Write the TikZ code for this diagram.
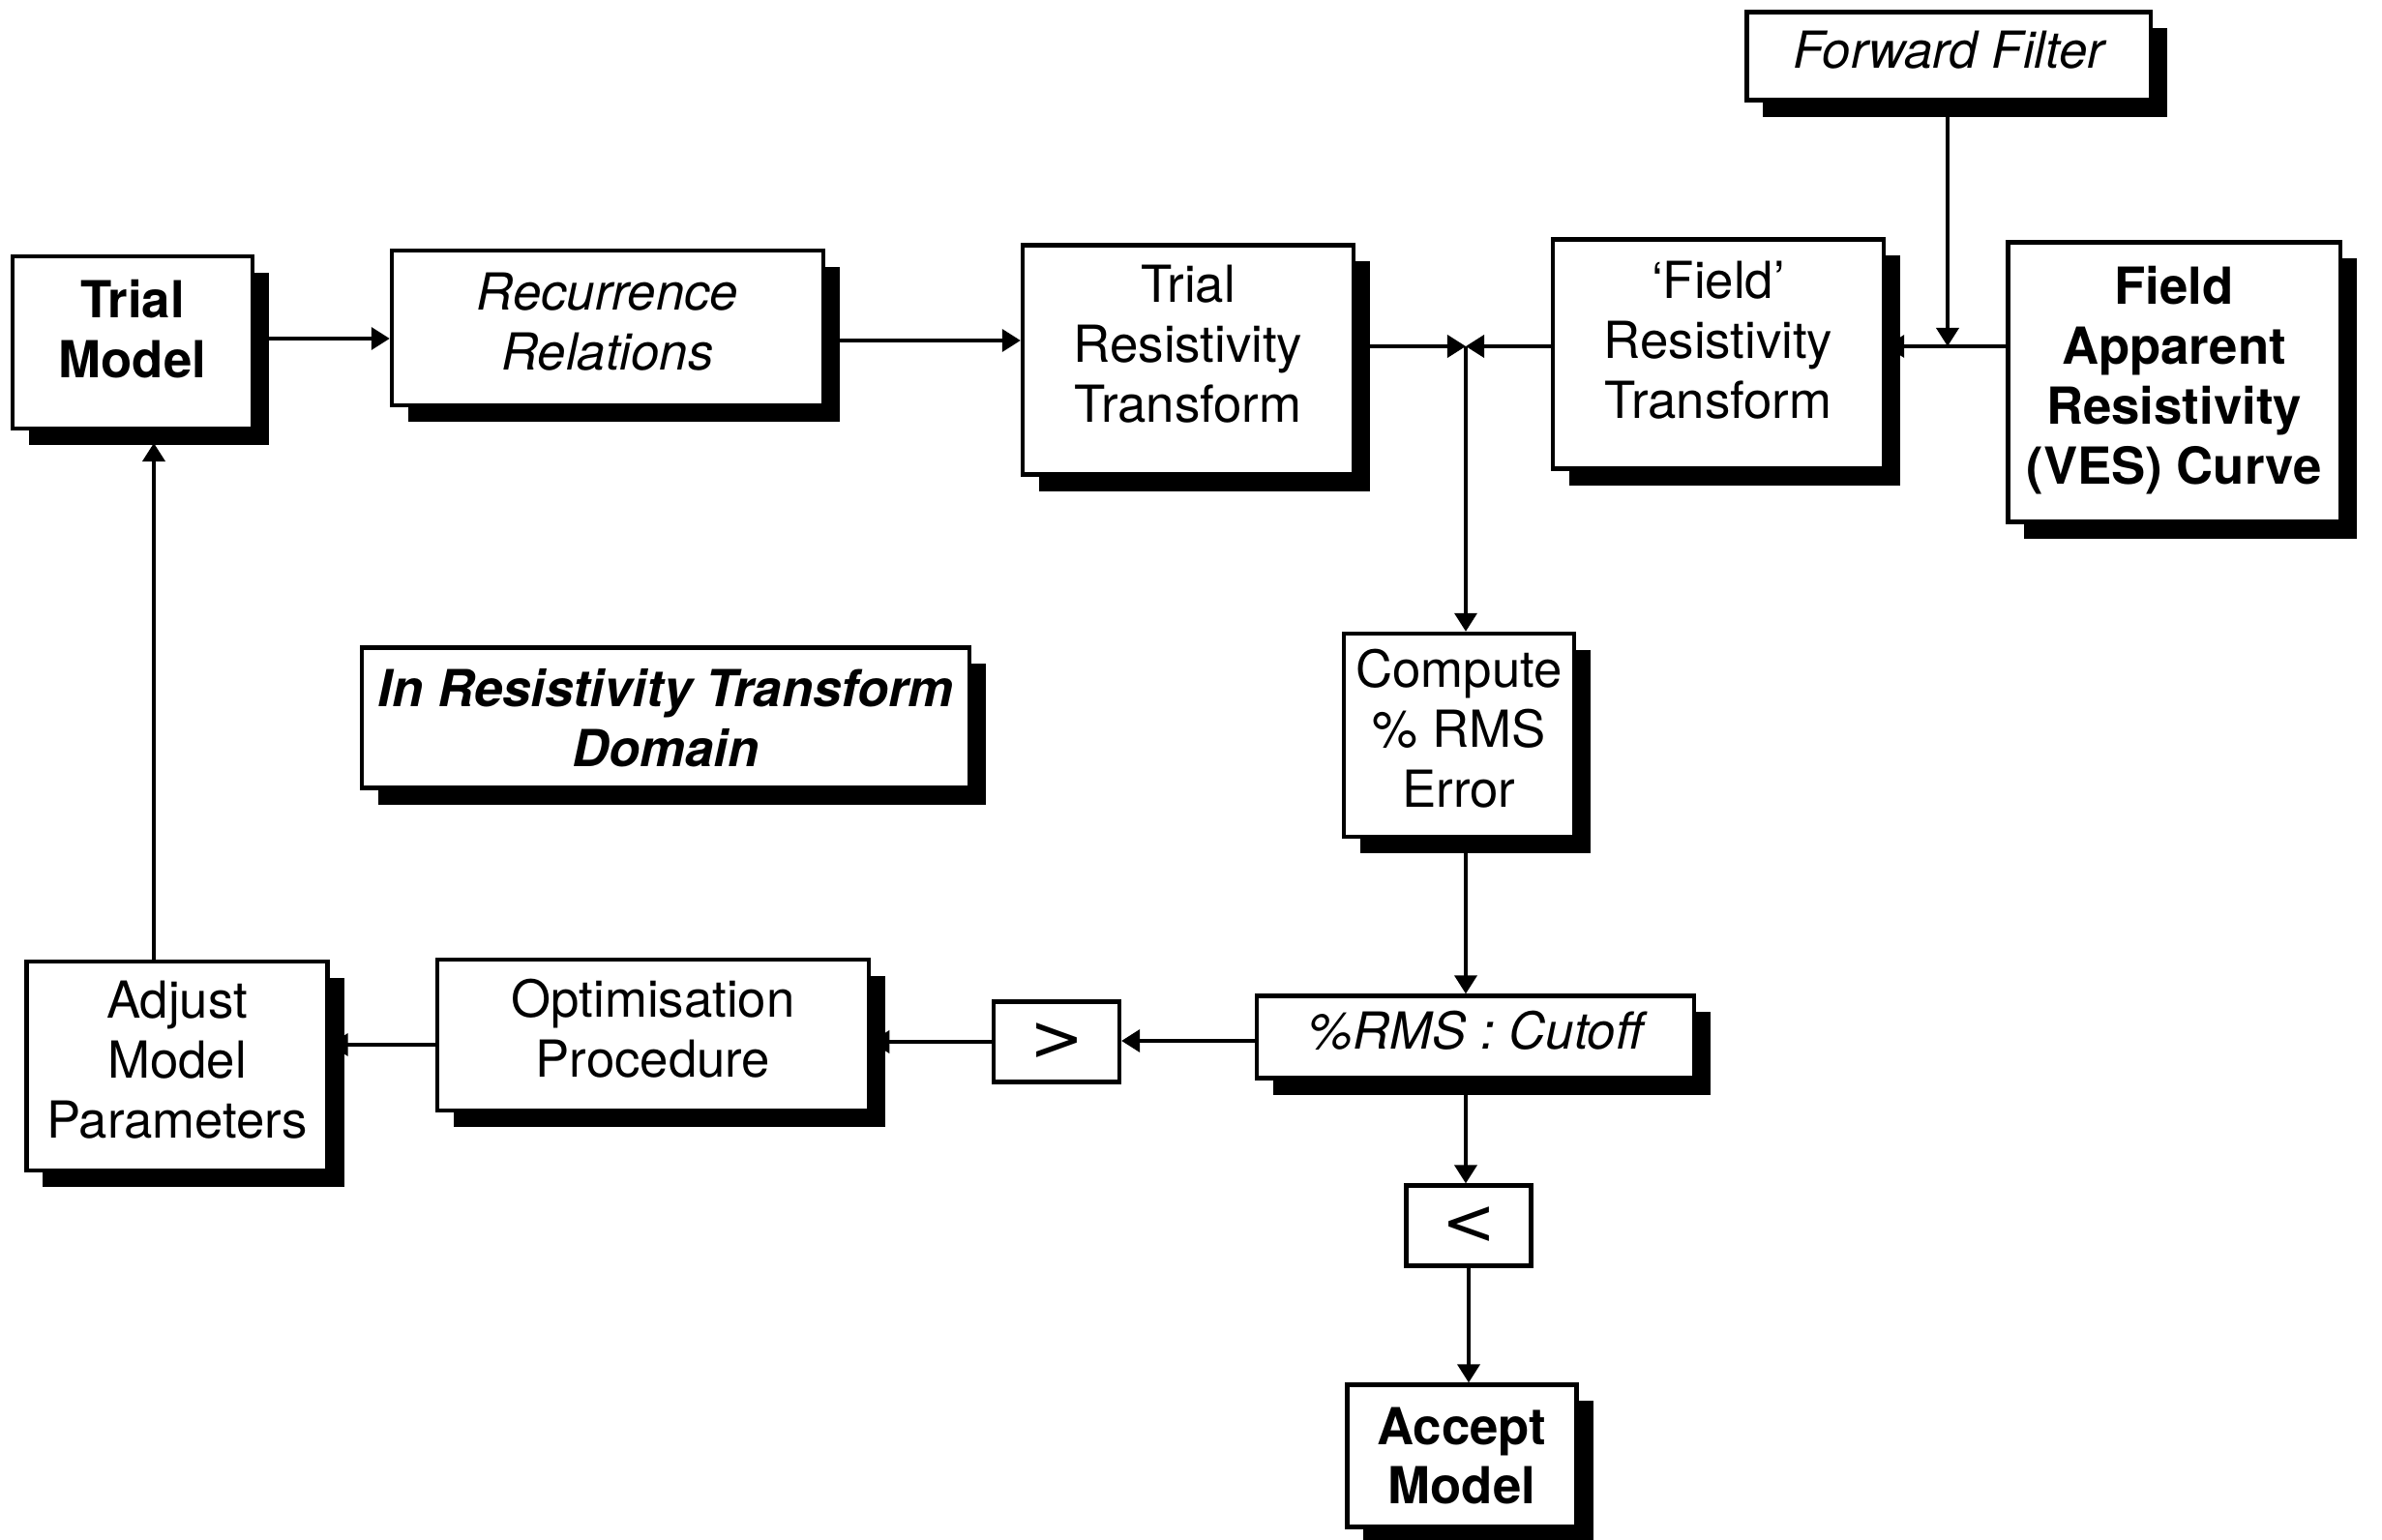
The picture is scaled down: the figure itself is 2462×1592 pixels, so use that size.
\documentclass[tikz,border=0pt]{standalone}
\usepackage{fontspec}
\setmainfont{TeX Gyre Heros}
\newfontfamily\cmpfont{DejaVu Sans}
\usetikzlibrary{arrows.meta,shadows,calc}
\newcommand\lift[2]{\raisebox{#1}[\height][\depth]{\begin{tabular}{@{}c@{}}#2\end{tabular}}}
\begin{document}
\begin{tikzpicture}[x=0.01cm,y=-0.01cm,
  box/.style={draw,line width=1.2pt,fill=white,align=center,inner sep=0pt,
    font=\fontsize{15}{17.6}\selectfont},
  bf/.style={font=\fontsize{15}{17.6}\selectfont\bfseries},
  it/.style={font=\fontsize{15}{17.6}\selectfont\itshape},
  sh/.style={drop shadow={shadow xshift=0.17cm,shadow yshift=-0.17cm,fill=black,opacity=1}},
  arr/.style={line width=1.05pt,-{Triangle[length=0.19cm,width=0.23cm]}}]
\useasboundingbox (0,0) rectangle (2462,1592);

\node[box,bf,sh,minimum width=2.48cm,minimum height=1.78cm] (tm) at (137,354) {\lift{0.07cm}{Trial\\Model}};
\node[box,it,sh,minimum width=4.46cm,minimum height=1.60cm] (rr) at (628,339) {\lift{0cm}{Recurrence\\Relations}};
\node[box,sh,minimum width=3.42cm,minimum height=2.37cm] (trt) at (1228,372) {\lift{0.095cm}{Trial\\Resistivity\\Transform}};
\node[box,sh,minimum width=3.42cm,minimum height=2.37cm] (frt) at (1776,366) {\lift{0.08cm}{‘Field’\\Resistivity\\Transform}};
\node[box,bf,sh,minimum width=3.43cm,minimum height=2.89cm] (fa) at (2247,395) {\lift{0cm}{Field\\Apparent\\Resistivity\\(VES) Curve}};
\node[box,it,sh,minimum width=4.17cm,minimum height=0.91cm] (ff) at (2014,58) {\lift{0cm}{Forward Filter}};
\node[box,sh,minimum width=6.27cm,minimum height=1.45cm,font=\fontsize{15}{17.6}\selectfont\bfseries\itshape] (ird) at (688,742) {In Resistivity Transform\\Domain};
\node[box,sh,minimum width=2.38cm,minimum height=2.10cm] (cmp) at (1508,760) {\lift{0cm}{Compute\\\% RMS\\Error}};
\node[box,it,sh,minimum width=4.51cm,minimum height=0.85cm] (cut) at (1525,1072) {\lift{0cm}{\%RMS : Cutoff}};
\node[box,minimum width=1.30cm,minimum height=0.83cm,font=\cmpfont\fontsize{19}{19}\selectfont] (gt) at (1092,1077) {>};
\node[box,minimum width=1.29cm,minimum height=0.83cm,font=\cmpfont\fontsize{19}{19}\selectfont] (lt) at (1518,1267) {<};
\node[box,bf,sh,minimum width=2.37cm,minimum height=1.47cm] (acc) at (1511,1505) {Accept\\Model};
\node[box,sh,minimum width=4.46cm,minimum height=1.56cm] (opt) at (675,1070) {\lift{0cm}{Optimisation\\Procedure}};
\node[box,sh,minimum width=3.11cm,minimum height=2.16cm] (adj) at (183,1102) {\lift{0cm}{Adjust\\Model\\Parameters}};

\coordinate (j) at (1515,358);
\coordinate (fj) at (2013,358);
\coordinate (up) at (159,458);

\draw[arr] (tm.east |- 0,350) -- (rr.west |- 0,350);
\draw[arr] (rr.east |- 0,352) -- (trt.west |- 0,352);
\draw[arr] (trt.east |- j) -- (j);
\draw[arr] (frt.west |- j) -- (j);
\draw[arr] (j) -- (cmp.north -| j);
\draw[arr] (fa.west |- fj) -- (frt.east |- fj);
\draw[arr] (ff.south -| fj) -- (fj);
\draw[arr] (cmp.south -| j) -- (cut.north -| j);
\draw[arr] (cut.west |- 0,1076) -- (gt.east |- 0,1076);
\draw[arr] (gt.west |- 0,1077) -- (opt.east |- 0,1077);
\draw[arr] (opt.west |- 0,1080) -- (adj.east |- 0,1080);
\draw[arr] (adj.north -| up) -- (up);
\draw[arr] (cut.south -| j) -- (lt.north -| j);
\draw[arr] (lt.south -| 1518,0) -- (acc.north -| 1518,0);
\end{tikzpicture}
\end{document}
